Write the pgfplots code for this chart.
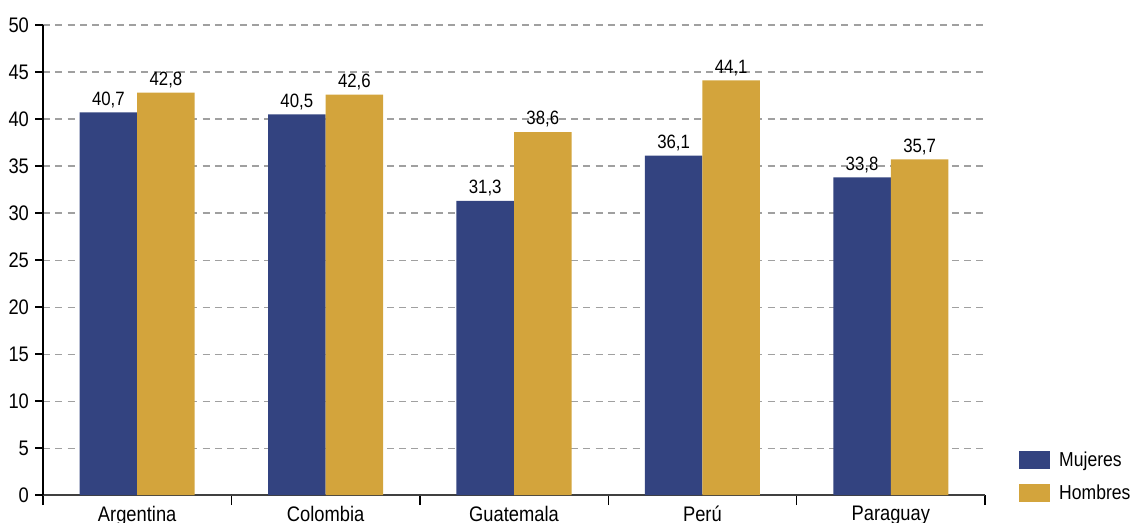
\documentclass[border=0pt]{standalone}
\usepackage{fontspec}
\setmainfont{Liberation Sans}[FakeStretch=0.87]
\usepackage{pgfplots}
\pgfplotsset{compat=1.18}
\definecolor{mujeres}{RGB}{51,67,128}
\definecolor{hombres}{RGB}{211,164,60}
\definecolor{gridgray}{RGB}{160,160,160}

\begin{document}
\begin{tikzpicture}
\begin{axis}[
  name=ax,
  scale only axis,
  width=536.9pt, height=267.9pt,
  ybar=0pt, bar width=32.8pt,
  xmin=-0.5, xmax=4.5, ymin=0, ymax=50,
  xtick={0,1,2,3,4},
  xticklabels={Argentina, Colombia, Guatemala, Perú, Paraguay},
  minor xtick={-0.5,0.5,1.5,2.5,3.5,4.5},
  ytick={0,5,...,50},
  axis y line*=left, axis x line*=bottom,
  y axis line style={black, line width=0.8pt, -},
  x axis line style={black!75, line width=0.8pt, -},
  tick align=outside,
  major tick length=4.5pt, minor tick length=5.7pt,
  x tick style={draw=none},
  minor x tick style={draw=black, line width=0.8pt},
  y tick style={black, line width=0.8pt},
  ymajorgrids=true,
  grid style={gridgray, dash pattern=on 4pt off 3pt, line width=0.6pt},
  tick label style={font=\fontsize{12}{14}\selectfont},
  xticklabel style={yshift=1.6pt},
  /pgf/number format/assume math mode=true,
  nodes near coords,
  every node near coord/.append style={font=\fontsize{11}{13}\selectfont, black, inner sep=2.5pt},
  nodes near coords style={/pgf/number format/.cd, use comma, fixed, fixed zerofill, precision=1},
  legend style={draw=none, fill=none, at={(1,0)}, anchor=south west,
    xshift=19.4pt, yshift=-6.3pt, font=\fontsize{11.5}{13.5}\selectfont,
    row sep=4.9pt, inner sep=0pt,
    /tikz/every odd column/.append style={column sep=3pt}},
  legend cell align=left,
  legend image code/.code={\fill[#1] (0pt,-4.6pt) rectangle (17.7pt,5.3pt);},
]
\addplot[fill=mujeres, draw=none] coordinates {
  (0,40.7) (1,40.5) (2,31.3) (3,36.1) (4,33.8)
};
\addplot[fill=hombres, draw=none] coordinates {
  (0,42.8) (1,42.6) (2,38.6) (3,44.1) (4,35.7)
};
\legend{Mujeres, Hombres}
\end{axis}
\pgfresetboundingbox
\path[use as bounding box] ([xshift=-24.5pt,yshift=-15.4pt]ax.south west)
  rectangle ([xshift=83.2pt,yshift=14.25pt]ax.north east);
\end{tikzpicture}
\end{document}
